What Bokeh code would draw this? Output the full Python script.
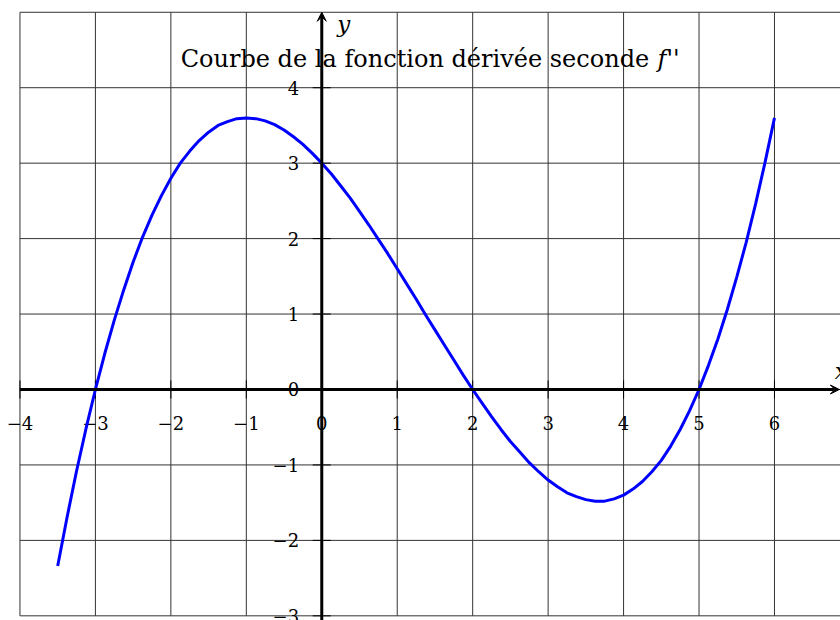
from bokeh.plotting import figure
from bokeh.models import Range1d, Arrow, VeeHead
from bokeh.core.properties import value
from bokeh.embed import file_html
from bokeh.resources import INLINE

# curve points
xs = [-3.5, -3.375, -3.25, -3.125, -3.0, -2.875, -2.75, -2.625, -2.5, -2.375,
      -2.25, -2.125, -2.0, -1.875, -1.75, -1.625, -1.5, -1.375, -1.25, -1.125,
      -1.0, -0.875, -0.75, -0.625, -0.5, -0.375, -0.25, -0.125, 0.0, 0.125,
      0.25, 0.375, 0.5, 0.625, 0.75, 0.875, 1.0, 1.125, 1.25, 1.375,
      1.5, 1.625, 1.75, 1.875, 2.0, 2.125, 2.25, 2.375, 2.5, 2.625,
      2.75, 2.875, 3.0, 3.125, 3.25, 3.375, 3.5, 3.625, 3.75, 3.875,
      4.0, 4.125, 4.25, 4.375, 4.5, 4.625, 4.75, 4.875, 5.0, 5.125,
      5.25, 5.375, 5.5, 5.625, 5.75, 5.875, 6.0]
ys = [-2.34, -1.69, -1.08, -0.52, 0.0, 0.48, 0.92, 1.32, 1.69, 2.02,
      2.31, 2.57, 2.80, 3.00, 3.16, 3.30, 3.41, 3.50, 3.55, 3.59,
      3.60, 3.59, 3.56, 3.51, 3.44, 3.35, 3.25, 3.13, 3.00, 2.86,
      2.70, 2.54, 2.36, 2.18, 1.99, 1.80, 1.60, 1.40, 1.20, 0.99,
      0.79, 0.59, 0.39, 0.19, 0.0, -0.18, -0.36, -0.53, -0.69, -0.83,
      -0.97, -1.09, -1.20, -1.29, -1.37, -1.42, -1.46, -1.48, -1.48, -1.45,
      -1.40, -1.32, -1.22, -1.09, -0.94, -0.75, -0.53, -0.28, 0.0, 0.32,
      0.67, 1.06, 1.49, 1.95, 2.46, 3.01, 3.60]

x_ticks = [-4, -3, -2, -1, 0, 1, 2, 3, 4, 5, 6]
x_tick_labels = ["−4", "−3", "−2", "−1", "0", "1", "2", "3", "4", "5", "6"]
y_ticks = [-3, -2, -1, 0, 1, 2, 3, 4]
y_tick_labels = ["−3", "−2", "−1", "0", "1", "2", "3", "4"]
grid_x = [-4, -3, -2, -1, 0, 1, 2, 3, 4, 5, 6, 7]
grid_y = [-3, -2, -1, 0, 1, 2, 3, 4, 5]

title_text = "Courbe de la fonction dérivée seconde"
title_f = "f''"

SERIF = "DejaVu Serif"

p = figure(width=840, height=620,
           x_range=Range1d(-4.258, 6.875), y_range=Range1d(-3.062, 5.156),
           x_axis_type=None, y_axis_type=None,
           toolbar_location=None, output_backend="svg",
           min_border=0, outline_line_color=None, background_fill_color="white")

# grid
gx0, gx1 = min(grid_x), max(grid_x)
gy0, gy1 = min(grid_y), max(grid_y)
p.segment(x0=grid_x, y0=[gy0] * len(grid_x), x1=grid_x, y1=[gy1] * len(grid_x),
          line_color="#333333", line_width=1)
p.segment(x0=[gx0] * len(grid_y), y0=grid_y, x1=[gx1] * len(grid_y), y1=grid_y,
          line_color="#333333", line_width=1)

# axes with arrows
p.add_layout(Arrow(x_start=-4, y_start=0, x_end=6.86, y_end=0, line_width=3,
                   line_color="black",
                   end=VeeHead(size=9, line_color="black", fill_color="black", line_width=1)))
p.add_layout(Arrow(x_start=0, y_start=-3.1, x_end=0, y_end=5.0, line_width=3,
                   line_color="black",
                   end=VeeHead(size=9, line_color="black", fill_color="black", line_width=1)))

# tick marks
tk = 0.12
p.segment(x0=x_ticks, y0=[-tk] * len(x_ticks), x1=x_ticks, y1=[tk] * len(x_ticks),
          line_color="black", line_width=1)
p.segment(x0=[-tk] * len(y_ticks), y0=y_ticks, x1=[tk] * len(y_ticks), y1=y_ticks,
          line_color="black", line_width=1)

# tick labels
p.text(x=x_ticks, y=[-0.44] * len(x_ticks), text=x_tick_labels,
       text_font=value(SERIF), text_font_size="18px", text_color="black",
       text_align="center", text_baseline="middle")
p.text(x=[-0.30] * len(y_ticks), y=y_ticks, text=y_tick_labels,
       text_font=value(SERIF), text_font_size="18px", text_color="black",
       text_align="right", text_baseline="middle")

# curve
p.line(xs, ys, line_color="#0000ff", line_width=3)

# axis names
p.text(x=[0.29], y=[4.85], text=["y"], text_font=value(SERIF), text_font_style="italic",
       text_font_size="23px", text_align="center", text_baseline="middle")
p.text(x=[6.8], y=[0.24], text=["x"], text_font=value(SERIF), text_font_style="italic",
       text_font_size="23px", text_align="left", text_baseline="middle")

# title
p.text(x=[4.34], y=[4.38], text=[title_text], text_font=value(SERIF),
       text_font_size="24px", text_align="right", text_baseline="middle")
p.text(x=[4.45], y=[4.38], text=[title_f], text_font=value(SERIF), text_font_style="italic",
       text_font_size="24px", text_align="left", text_baseline="middle")

open("out.html", "w").write(file_html(p, INLINE))
